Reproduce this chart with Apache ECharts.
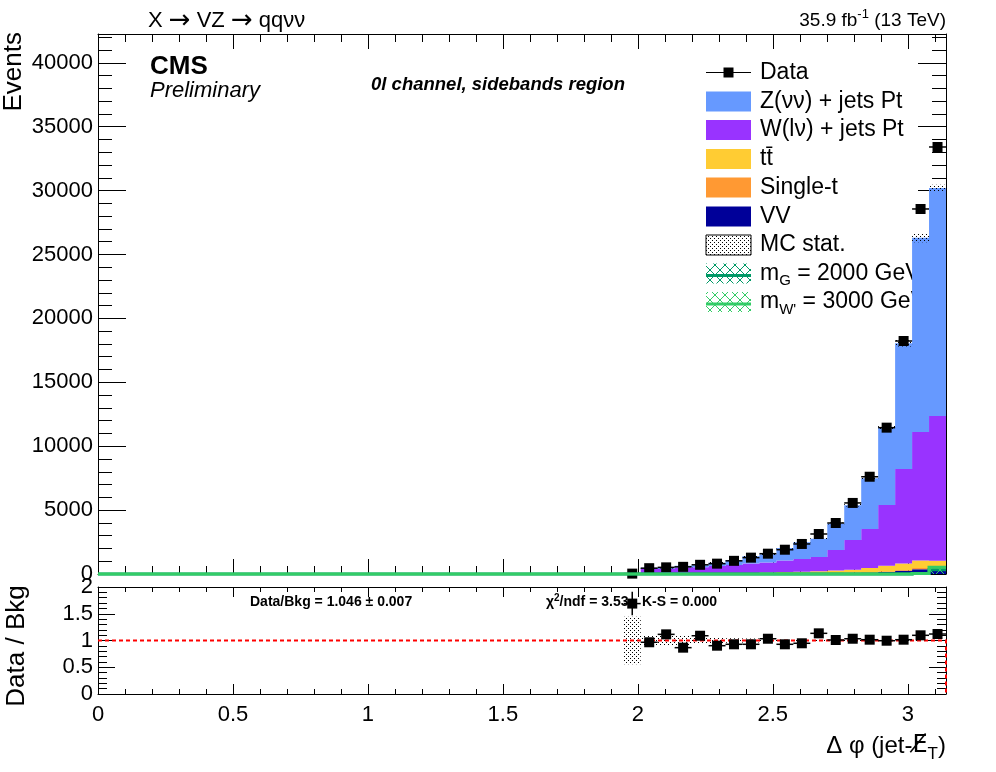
<!DOCTYPE html>
<html><head><meta charset="utf-8">
<script src="https://cdn.jsdelivr.net/npm/echarts@6/dist/echarts.min.js"></script>
<style>html,body{margin:0;padding:0;background:#fff}#c{width:996px;height:772px}</style>
</head><body><div id="c"></div>
<script>
// ---- histogram definition ----
const N_BINS = 50;            // 50 bins between 0 and pi
const X_MAX = Math.PI;
const FIRST_BIN = 31;         // first populated bin (values below refer to bins 31..49)

// ---- data (bins 31..49) ----
const dataCounts = [30, 455, 520, 560, 720, 810, 1030, 1280, 1590, 1900, 2350, 3130, 3990, 5560, 7610, 11450, 18230, 28560, 33410];
// backgrounds, stacked bottom -> top: VV, Single-t, ttbar, W, Z
const vvBkg     = [0, 3, 4, 5, 6, 8, 10, 13, 16, 20, 26, 32, 45, 65, 95, 150, 250, 380, 400];
const singleTop = [0, 3, 4, 5, 7, 9, 11, 14, 17, 22, 27, 33, 40, 50, 60, 70, 70, 80, 80];
const ttBkg     = [1, 10, 12, 18, 24, 32, 45, 60, 80, 110, 130, 150, 180, 210, 320, 430, 500, 600, 550];
const wJets     = [7, 374, 380, 472, 483, 571, 634, 733, 787, 898, 997, 1115, 1615, 2335, 3045, 4750, 7400, 10050, 11330];
const zJets     = [10, 100, 80, 150, 160, 260, 400, 560, 640, 990, 1300, 1430, 2070, 2720, 3980, 6100, 9830, 15190, 17840];
const mcStatErr = [8, 50, 50, 60, 45, 50, 45, 50, 45, 55, 60, 60, 75, 90, 110, 160, 260, 350, 250];
// ratio panel (bins 31..49)
const ratioVals = [1.69, 0.967, 1.115, 0.866, 1.089, 0.903, 0.929, 0.929, 1.033, 0.929, 0.948, 1.134, 1.009, 1.033, 1.015, 0.996, 1.015, 1.097, 1.121];
const ratioErr  = [0.22, 0.05, 0.05, 0.045, 0.04, 0.035, 0.032, 0.028, 0.026, 0.024, 0.021, 0.019, 0.017, 0.014, 0.012, 0.01, 0.008, 0.007, 0.006];
// signals, all 50 bins (0..49)
const sigG2000 = [0,0,0,0,0,0,0,0,0,0, 0,0,0,0,0,0,0,0,0,0, 0,0,0,0,0,0,0,0,0,0, 0,0,0,0,0,0,0,0,0,0, 0,0,0,0,0,0,0,5,30,330];
const sigW3000 = [0,0,0,0,0,0,0,0,0,0, 0,0,0,0,0,0,0,0,0,0, 0,0,0,0,0,0,0,0,0,0, 0,0,0,0,0,0,0,0,0,0, 0,0,0,0,0,0,0,5,40,520];
// axis ticks
const mainYTicks = [0, 5000, 10000, 15000, 20000, 25000, 30000, 35000, 40000];
const ratioYTicks = [0, 0.5, 1, 1.5, 2];
const xTicks = [0, 0.5, 1, 1.5, 2, 2.5, 3];

const FONT = "'Liberation Sans', Arial, Helvetica, sans-serif";
const BW = X_MAX / N_BINS;
const COL = {z:'#6699ff', w:'#9933ff', tt:'#ffcc33', st:'#ff9933', vv:'#000099', gDark:'#009966', gLight:'#33cc66'};

function dotPattern(){
  const c=document.createElement('canvas'); c.width=4; c.height=4;
  const g=c.getContext('2d'); g.fillStyle='#000'; g.fillRect(0,0,1,1); g.fillRect(2,2,1,1);
  return {image:c, repeat:'repeat'};
}
function crossPattern(color){
  const c=document.createElement('canvas'); c.width=10; c.height=10;
  const g=c.getContext('2d'); g.strokeStyle=color; g.lineWidth=1;
  g.beginPath(); g.moveTo(0,0); g.lineTo(10,10); g.moveTo(10,0); g.lineTo(0,10); g.stroke();
  return {image:c, repeat:'repeat'};
}
const DOTS = dotPattern();

// cumulative stack
const comps = [vvBkg, singleTop, ttBkg, wJets, zJets];
const compCol = [COL.vv, COL.st, COL.tt, COL.w, COL.z];
const cum = []; let run = dataCounts.map(()=>0);
comps.forEach(a=>{ const lo=run.slice(); run=run.map((v,i)=>v+a[i]); cum.push([lo, run.slice()]); });
const total = run;

function stepPts(api, lower, upper, first){
  const pts=[];
  for(let j=0;j<upper.length;j++){ const lo=(first+j)*BW, hi=lo+BW; pts.push(api.coord([lo,upper[j]]), api.coord([hi,upper[j]])); }
  for(let j=upper.length-1;j>=0;j--){ const lo=(first+j)*BW, hi=lo+BW; pts.push(api.coord([hi,lower[j]]), api.coord([lo,lower[j]])); }
  return pts;
}
function stepLine(api, vals, first){
  const pts=[];
  for(let j=0;j<vals.length;j++){ const lo=(first+j)*BW, hi=lo+BW; pts.push(api.coord([lo,vals[j]]), api.coord([hi,vals[j]])); }
  return pts;
}
function polySeries(name, xi, yi, lower, upper, fill, z, first){
  return {name, type:'custom', coordinateSystem:'cartesian2d', xAxisIndex:xi, yAxisIndex:yi, z, silent:true, data:[[0.1,0.1]],
    renderItem:(p,api)=>({type:'polygon', shape:{points:stepPts(api, lower, upper, first==null?FIRST_BIN:first)}, style:{fill, stroke:null}})};
}

const series = [];
comps.forEach((a,k)=>series.push(polySeries('bkg'+k,0,0,cum[k][0],cum[k][1],compCol[k],2)));
series.push(polySeries('mcstat',0,0,total.map((v,i)=>v-mcStatErr[i]),total.map((v,i)=>v+mcStatErr[i]),DOTS,3));
// data points
series.push({name:'Data', type:'custom', coordinateSystem:'cartesian2d', xAxisIndex:0, yAxisIndex:0, z:4, silent:true,
  data: dataCounts.map((v,j)=>[(FIRST_BIN+j+0.5)*BW, v]),
  renderItem:(p,api)=>{
    const x=api.value(0), y=api.value(1);
    const a=api.coord([x-BW/2,y]), b=api.coord([x+BW/2,y]), c=api.coord([x,y]);
    return {type:'group', children:[
      {type:'line', shape:{x1:a[0],y1:a[1],x2:b[0],y2:b[1]}, style:{stroke:'#000', lineWidth:1.5}},
      {type:'rect', shape:{x:c[0]-5,y:c[1]-5,width:10,height:10}, style:{fill:'#000'}}]};
  }});
// signals
[[sigG2000,COL.gDark],[sigW3000,COL.gLight]].forEach(([arr,col],k)=>{
  const zeros = arr.map(()=>0);
  series.push(polySeries('sigfill'+k,0,0,zeros,arr,crossPattern(col),5+k,0));
  series.push({name:'sig'+k, type:'custom', coordinateSystem:'cartesian2d', xAxisIndex:0, yAxisIndex:0, z:6+k, silent:true, data:[[0.1,0.1]],
    renderItem:(p,api)=>({type:'polyline', shape:{points:stepLine(api,arr,0)}, style:{stroke:col, lineWidth:3, fill:null}})});
});
// ratio band (grid 1: xAxis 2, yAxis 2)
series.push(polySeries('rband',2,2,total.map((v,i)=>1-mcStatErr[i]/v),total.map((v,i)=>1+mcStatErr[i]/v),DOTS,2));
// ratio reference line
series.push({name:'rline', type:'custom', coordinateSystem:'cartesian2d', xAxisIndex:2, yAxisIndex:2, z:3, silent:true, data:[[0.1,1]],
  renderItem:(p,api)=>{ const a=api.coord([0,1]), b=api.coord([X_MAX,1]), c=api.coord([X_MAX,0]);
    return {type:'polyline', shape:{points:[a,b,c]}, style:{stroke:'#ff0000', lineWidth:2, lineDash:[4,3], fill:null}}; }});
// ratio points
series.push({name:'Ratio', type:'custom', coordinateSystem:'cartesian2d', xAxisIndex:2, yAxisIndex:2, z:4, silent:true,
  data: ratioVals.map((v,j)=>[(FIRST_BIN+j+0.5)*BW, v, ratioErr[j]]),
  renderItem:(p,api)=>{
    const x=api.value(0), y=api.value(1), e=api.value(2);
    const a=api.coord([x-BW/2,y]), b=api.coord([x+BW/2,y]), c=api.coord([x,y]), t=api.coord([x,y+e]), u=api.coord([x,y-e]);
    return {type:'group', children:[
      {type:'line', shape:{x1:a[0],y1:a[1],x2:b[0],y2:b[1]}, style:{stroke:'#000', lineWidth:1.5}},
      {type:'line', shape:{x1:t[0],y1:t[1],x2:u[0],y2:u[1]}, style:{stroke:'#000', lineWidth:1.5}},
      {type:'rect', shape:{x:c[0]-5,y:c[1]-5,width:10,height:10}, style:{fill:'#000'}}]};
  }});

function xAx(grid, pos, showLabel, tl, ml){
  return {gridIndex:grid, type:'value', min:0, max:X_MAX, interval:0.5, position:pos,
    axisLine:{show:true, onZero:false, lineStyle:{color:'#000', width:1}},
    axisTick:{show:true, inside:true, length:tl, lineStyle:{color:'#000', width:1}},
    minorTick:{show:true, splitNumber:5, length:ml, lineStyle:{color:'#000', width:1}},
    splitLine:{show:false}, minorSplitLine:{show:false},
    axisLabel:{show:showLabel, color:'#000', fontFamily:FONT, fontSize:22, margin:10, showMaxLabel:false,
      formatter:v=>(xTicks.indexOf(v)>=0?String(v):'')}};
}
function yAx(grid, pos, showLabel, max, intv, tl, ml, ticks, showMax){
  return {gridIndex:grid, type:'value', min:0, max:max, interval:intv, position:pos,
    axisLine:{show:true, onZero:false, lineStyle:{color:'#000', width:1}},
    axisTick:{show:true, inside:true, length:tl, lineStyle:{color:'#000', width:1}},
    minorTick:{show:true, splitNumber:5, length:ml, lineStyle:{color:'#000', width:1}},
    splitLine:{show:false}, minorSplitLine:{show:false},
    axisLabel:{show:showLabel, color:'#000', fontFamily:FONT, fontSize:22, margin:5, showMaxLabel:showMax,
      formatter:v=>(ticks.indexOf(v)>=0?String(v):'')}};
}

// legend (drawn as graphic elements)
const LX=706, LW=45, TX=760;
const rows=[72.5,101.5,130,159,187.5,216.5,245,273.5,302];
const legendItems=[
  {kind:'data', text:'Data'},
  {kind:'box', fill:COL.z, text:'Z(νν) + jets Pt'},
  {kind:'box', fill:COL.w, text:'W(lν) + jets Pt'},
  {kind:'box', fill:COL.tt, text:'{n|t}{n|t\u0304}'},
  {kind:'box', fill:COL.st, text:'Single-t'},
  {kind:'box', fill:COL.vv, text:'VV'},
  {kind:'stat', text:'MC stat.'},
  {kind:'sig', col:COL.gDark, text:'{n|m}{s|G}{n| = 2000 GeV}'},
  {kind:'sig', col:COL.gLight, text:"{n|m}{s|W'}{n| = 3000 GeV}"}
];
const LFS=23;
const richSub={n:{fontSize:LFS, fontFamily:FONT, lineHeight:30, verticalAlign:'middle'}, s:{fontSize:15, fontFamily:FONT, verticalAlign:'bottom', lineHeight:30}};
const graphics=[];
legendItems.forEach((it,k)=>{
  const y=rows[k];
  if(it.kind==='data'){
    graphics.push({type:'line', shape:{x1:LX,y1:y,x2:LX+LW,y2:y}, style:{stroke:'#000', lineWidth:1.2}});
    graphics.push({type:'rect', shape:{x:LX+LW/2-5,y:y-5,width:10,height:10}, style:{fill:'#000'}});
  } else if(it.kind==='box'){
    graphics.push({type:'rect', shape:{x:LX,y:y-10,width:LW,height:20}, style:{fill:it.fill}});
  } else if(it.kind==='stat'){
    graphics.push({type:'rect', shape:{x:LX,y:y-10,width:LW,height:20}, style:{fill:DOTS, stroke:'#000', lineWidth:1}});
  } else {
    graphics.push({type:'rect', shape:{x:LX,y:y-10,width:LW,height:20}, style:{fill:crossPattern(it.col)}});
    graphics.push({type:'line', shape:{x1:LX,y1:y+2,x2:LX+LW,y2:y+2}, style:{stroke:it.col, lineWidth:3}});
  }
  graphics.push({type:'text', x:TX, y:y, style:{text:it.text, rich:richSub, font:LFS+'px '+FONT, fill:'#000', align:'left', verticalAlign:'middle'}});
});
// header / labels
const AR="'DejaVu Sans', sans-serif";
graphics.push({type:'text', x:148, y:21, style:{text:'{n|X }{a|→}{n| VZ }{a|→}{n| qqνν}', rich:{n:{fontSize:22,fontFamily:FONT,lineHeight:26,verticalAlign:'middle'},a:{fontSize:26,fontFamily:AR,lineHeight:26,verticalAlign:'middle'}}, fill:'#000', align:'left', verticalAlign:'middle'}});
graphics.push({type:'text', x:946, y:21, style:{text:'{n|35.9 fb}{p|-1}{n| (13 TeV)}', rich:{n:{fontSize:19,fontFamily:FONT,lineHeight:26,verticalAlign:'middle'},p:{fontSize:13,fontFamily:FONT,lineHeight:26,verticalAlign:'top'}}, fill:'#000', align:'right', verticalAlign:'middle'}});
graphics.push({type:'text', x:150, y:67, style:{text:'CMS', font:'bold 26px '+FONT, fill:'#000', align:'left', verticalAlign:'middle'}});
graphics.push({type:'text', x:150, y:91, style:{text:'Preliminary', font:'italic 22px '+FONT, fill:'#000', align:'left', verticalAlign:'middle'}});
graphics.push({type:'text', x:498, y:85, style:{text:'0l channel, sidebands region', font:'italic bold 18.5px '+FONT, fill:'#000', align:'center', verticalAlign:'middle'}});
graphics.push({type:'text', x:250, y:602, z:1, style:{text:'Data/Bkg = 1.046 ± 0.007', font:'bold 14px '+FONT, fill:'#000', align:'left', verticalAlign:'middle'}});
graphics.push({type:'text', x:546, y:602, z:1, style:{text:'{b|χ}{p|2}{b|/ndf = 3.53}', rich:{b:{fontSize:14,fontWeight:'bold',fontFamily:FONT,lineHeight:18,verticalAlign:'middle'},p:{fontSize:10,fontWeight:'bold',fontFamily:FONT,lineHeight:18,verticalAlign:'top'}}, fill:'#000', align:'left', verticalAlign:'middle'}});
graphics.push({type:'text', x:642, y:602, z:1, style:{text:'K-S = 0.000', font:'bold 14px '+FONT, fill:'#000', align:'left', verticalAlign:'middle'}});
graphics.push({type:'text', x:14, y:32, rotation:Math.PI/2, style:{text:'Events', font:'26px '+FONT, fill:'#000', align:'right', verticalAlign:'middle'}});
graphics.push({type:'text', x:17, y:646, rotation:Math.PI/2, style:{text:'Data / Bkg', font:'26px '+FONT, fill:'#000', align:'center', verticalAlign:'middle'}});
graphics.push({type:'text', x:946, y:746, style:{text:'{n|Δ φ (jet-}{e|E\u0338}{s|T}{n|)}', rich:{n:{fontSize:24,fontFamily:FONT,lineHeight:34,verticalAlign:'middle'},e:{fontSize:24,fontFamily:AR,lineHeight:34,verticalAlign:'middle'},s:{fontSize:17,fontFamily:FONT,lineHeight:34,verticalAlign:'bottom'}}, fill:'#000', align:'right', verticalAlign:'middle'}});

const chart = echarts.init(document.getElementById('c'), null, {renderer:'canvas'});
chart.setOption({
  animation:false, backgroundColor:'#fff',
  grid:[{left:98, right:50, top:34, height:540}, {left:98, right:50, top:587, height:107}],
  xAxis:[xAx(0,'bottom',false,15,8), xAx(0,'top',false,15,8), xAx(1,'bottom',true,10,5), xAx(1,'top',false,10,5)],
  yAxis:[yAx(0,'left',true,42250,5000,28,14,mainYTicks,false), yAx(0,'right',false,42250,5000,28,14,mainYTicks,false),
         yAx(1,'left',true,2,0.5,17,9,ratioYTicks,true), yAx(1,'right',false,2,0.5,17,9,ratioYTicks,true)],
  series: series,
  graphic: graphics
});
</script></body></html>
